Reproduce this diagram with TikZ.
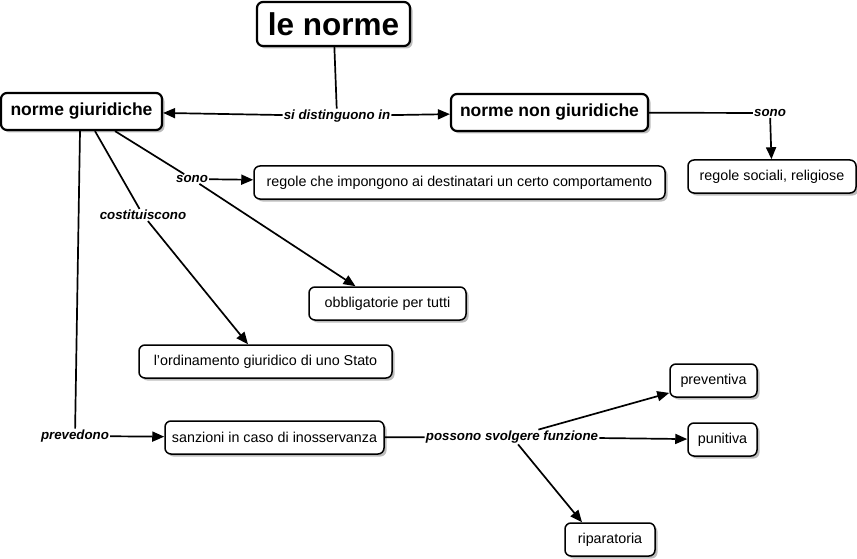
\documentclass[tikz,border=0pt]{standalone}
\usepackage{fontspec}
\setmainfont{Liberation Sans}
\usetikzlibrary{arrows.meta,shadows}
\definecolor{inkblack}{HTML}{000000}
\definecolor{shadowgray}{HTML}{7A7A7A}

\begin{document}
\begin{tikzpicture}[x=1pt,y=-1pt,
  concept/.style={draw=inkblack, line width=1.5pt, rounded corners=6pt, fill=white, inner sep=0pt,
    font=\fontsize{14.3}{16}\selectfont,
    drop shadow={shadow xshift=2.5pt, shadow yshift=-2.5pt, fill=shadowgray}},
  mainconcept/.style={concept, line width=2.2pt, font=\fontsize{17.5}{20}\selectfont\bfseries},
  linklabel/.style={fill=white, inner sep=1pt, font=\fontsize{13.3}{15}\selectfont\bfseries\itshape},
  link/.style={draw=inkblack, line width=1.7pt},
  arrowlink/.style={link, -{Triangle[length=12pt,width=10pt]}}]
  \useasboundingbox (0,0) rectangle (857,559);
  % Main concepts
  \node[mainconcept, minimum width=153pt, minimum height=44pt, font=\fontsize{31.5}{34}\selectfont\bfseries]
    (lenorme) at (333.5,24) {le norme};
  \node[mainconcept, minimum width=161pt, minimum height=37pt] (giur) at (81.5,111.5) {norme giuridiche};
  \node[mainconcept, minimum width=197pt, minimum height=37pt] (nongiur) at (549.5,112.5) {norme non giuridiche};
  % Concepts
  \foreach \name/\x/\y/\w/\txt in {
      regole/459.5/182.5/411/{regole che impongono ai destinatari un certo comportamento},
      sociali/772/176.5/168/{regole sociali, religiose},
      obblig/387.5/303.5/157/{obbligatorie per tutti},
      ordin/265.5/361.5/253/{l'ordinamento giuridico di uno Stato},
      prev/713.5/380.5/87/{preventiva},
      sanz/274.5/437.5/219/{sanzioni in caso di inosservanza},
      pun/722.5/439.5/69/{punitiva},
      ripar/610/539.5/90/{riparatoria}} {
    \node[concept, minimum width=\w pt, minimum height=33pt] (\name) at (\x,\y) {\txt};
  }
  % Linking phrases
  \node[linklabel] (distinguono) at (337,116) {si distinguono in};
  \node[linklabel] (sono1) at (192,179) {sono};
  \node[linklabel] (costit) at (143,215) {costituiscono};
  \node[linklabel] (preved) at (75,436) {prevedono};
  \node[linklabel] (possono) at (512,437) {possono svolgere funzione};
  \node[linklabel] (sono2) at (770,113) {sono};
  % Connections
  \draw[link] (lenorme) -- (distinguono);
  \draw[arrowlink] (distinguono) -- (giur);
  \draw[arrowlink] (distinguono) -- (nongiur);
  \draw[link] (nongiur) -- (sono2);
  \draw[arrowlink] (sono2) -- (sociali);
  \draw[link] ([xshift=33.5pt]giur.south) -- (sono1);
  \draw[arrowlink] (sono1) -- (regole);
  \draw[arrowlink] (sono1) -- ([xshift=-32pt]obblig.north);
  \draw[link] ([xshift=13.5pt]giur.south) -- (costit);
  \draw[arrowlink] (costit) -- ([xshift=-17.5pt]ordin.north);
  \draw[link] ([xshift=-1.5pt]giur.south) -- (preved);
  \draw[arrowlink] (preved) -- (sanz);
  \draw[link] (sanz) -- (possono);
  \draw[arrowlink] (possono) -- (prev);
  \draw[arrowlink] (possono) -- (pun);
  \draw[arrowlink] (possono) -- ([xshift=-28pt]ripar.north);
\end{tikzpicture}
\end{document}
